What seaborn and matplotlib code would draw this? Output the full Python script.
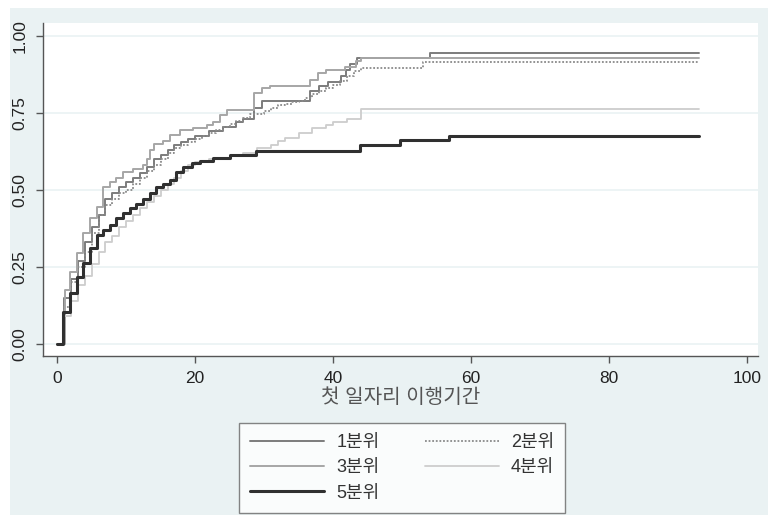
import matplotlib
matplotlib.use("Agg")
import matplotlib.pyplot as plt
import seaborn as sns
import pandas as pd
from matplotlib.patches import Rectangle

# ---- data (step points: time, cumulative proportion) ----
groups = ["1분위", "2분위", "3분위", "4분위", "5분위"]

t_q1 = [0, 1, 2, 3, 4, 5, 6, 7, 8, 9, 10, 11, 12, 13, 14, 15, 16, 17, 18, 19, 20,
        22, 24, 26, 27, 28.5, 29.7, 36.7, 38, 39.3, 41.2, 41.9, 42.5, 43.5, 54, 93]
v_q1 = [0, 0.15, 0.21, 0.27, 0.33, 0.38, 0.42, 0.47, 0.49, 0.51, 0.525, 0.54, 0.555,
        0.575, 0.60, 0.615, 0.63, 0.645, 0.655, 0.665, 0.675, 0.69, 0.705, 0.72, 0.73,
        0.765, 0.79, 0.82, 0.836, 0.85, 0.87, 0.89, 0.91, 0.93, 0.944, 0.944]

t_q2 = [0, 1, 2, 3, 4, 5, 6, 7, 8, 9, 10, 11, 12, 13, 14, 15, 16, 17, 18, 19, 20,
        21, 22, 23, 24, 25, 26, 27, 28, 30, 31, 32, 33, 34, 35, 36, 37, 38, 39, 40,
        41, 42, 43, 44, 53, 93]
v_q2 = [0, 0.12, 0.20, 0.25, 0.30, 0.36, 0.42, 0.45, 0.47, 0.49, 0.50, 0.52, 0.54,
        0.56, 0.58, 0.60, 0.62, 0.635, 0.645, 0.655, 0.665, 0.675, 0.685, 0.695,
        0.705, 0.715, 0.725, 0.735, 0.745, 0.755, 0.765, 0.775, 0.78, 0.785, 0.79,
        0.80, 0.81, 0.82, 0.83, 0.84, 0.855, 0.87, 0.885, 0.896, 0.917, 0.917]

t_q3 = [0, 1.2, 1.9, 2.9, 3.8, 4.8, 5.8, 6.7, 7.7, 8.6, 9.6, 11, 12.5, 13, 13.5, 14,
        15.4, 16.4, 17.8, 19.7, 21.7, 22.6, 23.6, 24.6, 28.6, 29.7, 30.9, 36.7, 37.8,
        39, 41.7, 43.3, 44, 93]
v_q3 = [0, 0.175, 0.235, 0.295, 0.36, 0.41, 0.445, 0.51, 0.526, 0.54, 0.558, 0.568,
        0.58, 0.60, 0.63, 0.65, 0.66, 0.68, 0.695, 0.70, 0.71, 0.72, 0.743, 0.76,
        0.815, 0.83, 0.838, 0.857, 0.88, 0.89, 0.90, 0.92, 0.93, 0.93]

t_q4 = [0, 1, 2, 3, 4, 5, 6, 7, 8, 9, 10, 11, 12, 13, 14, 15, 16, 17, 18, 19, 20,
        22, 25, 27, 29, 31, 32, 33, 35, 37, 39, 40, 42, 44, 93]
v_q4 = [0, 0.09, 0.14, 0.19, 0.22, 0.26, 0.30, 0.33, 0.35, 0.38, 0.40, 0.42, 0.44,
        0.46, 0.48, 0.50, 0.52, 0.54, 0.56, 0.58, 0.59, 0.60, 0.61, 0.62, 0.635,
        0.645, 0.66, 0.67, 0.685, 0.70, 0.71, 0.72, 0.73, 0.763, 0.763]

t_q5 = [0, 0.9, 1.9, 2.85, 3.8, 4.8, 5.75, 6.7, 7.7, 8.6, 9.6, 10.6, 11.5, 12.5,
        13.5, 14.4, 15.4, 16.4, 17.3, 18.3, 19.5, 20.7, 22.6, 25, 28.9, 43.9, 49.7,
        56.8, 93]
v_q5 = [0, 0.104, 0.165, 0.218, 0.262, 0.31, 0.354, 0.37, 0.386, 0.408, 0.425, 0.44,
        0.456, 0.47, 0.489, 0.51, 0.52, 0.532, 0.559, 0.575, 0.586, 0.595, 0.603,
        0.614, 0.625, 0.646, 0.662, 0.675, 0.675]

x_ticks = [0, 20, 40, 60, 80, 100]
y_ticks = [0.00, 0.25, 0.50, 0.75, 1.00]
x_label = "첫 일자리 이행기간"

series = {
    "1분위": (t_q1, v_q1),
    "2분위": (t_q2, v_q2),
    "3분위": (t_q3, v_q3),
    "4분위": (t_q4, v_q4),
    "5분위": (t_q5, v_q5),
}

styles = {
    "1분위": dict(color="#7c7c7c", lw=1.4, ls="-"),
    "2분위": dict(color="#8a8a8a", lw=1.3, ls=(0, (1, 1))),
    "3분위": dict(color="#a6a6a6", lw=1.4, ls="-"),
    "4분위": dict(color="#cdcdcd", lw=1.3, ls="-"),
    "5분위": dict(color="#303030", lw=2.2, ls="-"),
}

FONT = ["Liberation Sans", "Noto Sans CJK KR", "DejaVu Sans"]

sns.set_style("white")
plt.rcParams["font.family"] = FONT

fig = plt.figure(figsize=(7.68, 5.15), dpi=100, facecolor="white")
bg = "#eaf2f3"
fig.patches.append(Rectangle((10 / 768, 0), 1 - 10 / 768, 1 - 8 / 515,
                             transform=fig.transFigure, facecolor=bg,
                             edgecolor="none", zorder=-10))

ax = fig.add_axes([43 / 768, (515 - 356) / 515, (758 - 43) / 768, (356 - 23) / 515])
ax.set_facecolor("white")

for g in groups:
    t, v = series[g]
    df = pd.DataFrame({"t": t, "v": v})
    st = styles[g]
    sns.lineplot(data=df, x="t", y="v", ax=ax, color=st["color"], linewidth=st["lw"],
                 linestyle=st["ls"], drawstyle="steps-post", estimator=None,
                 errorbar=None, label=g, sort=True)

ax.set_xlim(-2.05, 101.6)
ax.set_ylim(-0.039, 1.042)
ax.set_xticks(x_ticks)
ax.set_yticks(y_ticks)
ax.set_xticklabels([str(x) for x in x_ticks], fontsize=12.5, color="#222222")
ax.set_yticklabels([f"{y:.2f}" for y in y_ticks], fontsize=12.5, color="#222222",
                   rotation=90, va="center")
ax.grid(axis="y", color="#eaf2f3", linewidth=1.2)
ax.grid(axis="x", visible=False)
for s in ["top", "right"]:
    ax.spines[s].set_visible(False)
for s in ["left", "bottom"]:
    ax.spines[s].set_color("#555555")
    ax.spines[s].set_linewidth(1.0)
ax.tick_params(axis="both", direction="out", length=5, width=1, color="#555555",
               pad=6, left=True, bottom=True)
ax.set_xlabel(x_label, fontsize=14.5, color="#555555", labelpad=1)
ax.set_ylabel("")

ax.get_legend().remove()
handles, labels = ax.get_legend_handles_labels()
hmap = dict(zip(labels, handles))
order = ["1분위", "3분위", "5분위", "2분위", "4분위"]
leg = fig.legend([hmap[k] for k in order], order, ncol=2, loc="lower left",
                 bbox_to_anchor=(239 / 768, 2 / 515), frameon=True, fancybox=False,
                 edgecolor="#666666", facecolor="white", fontsize=13,
                 handlelength=4.1, handletextpad=0.67, columnspacing=2.5,
                 borderpad=0.62, labelspacing=0.47, borderaxespad=0)
leg.get_frame().set_linewidth(1.0)
for txt in leg.get_texts():
    txt.set_color("#333333")

fig.savefig("out.png", dpi=100, facecolor=fig.get_facecolor())
